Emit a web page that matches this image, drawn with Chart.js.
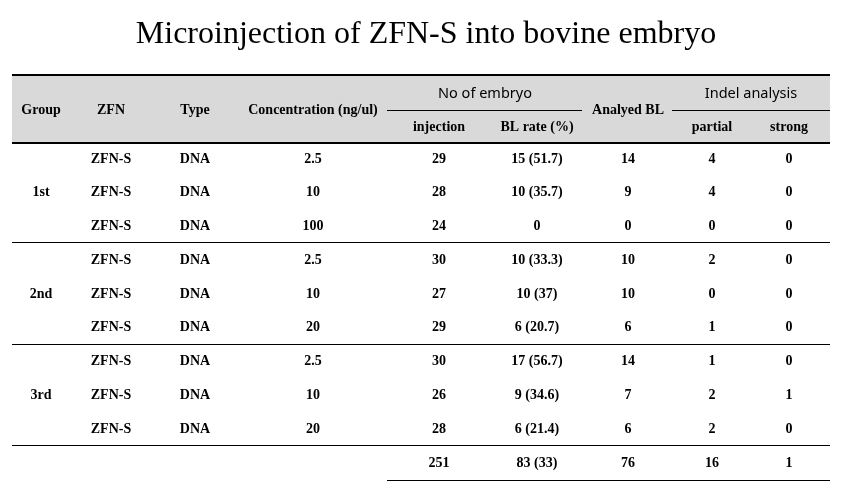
<!DOCTYPE html>
<html>
<head>
<meta charset="utf-8">
<script src="https://cdn.jsdelivr.net/npm/chart.js@4"></script>
<style>
html,body{margin:0;padding:0;background:#fff;}
#wrap{width:842px;height:492px;position:relative;}
</style>
</head>
<body>
<div id="wrap"><canvas id="c"></canvas></div>
<script>
// ---- data ----
const titleText = 'Microinjection of ZFN-S into bovine embryo';
const groups = ['1st', '2nd', '3rd'];
const zfnNames = ['ZFN-S','ZFN-S','ZFN-S','ZFN-S','ZFN-S','ZFN-S','ZFN-S','ZFN-S','ZFN-S'];
const types = ['DNA','DNA','DNA','DNA','DNA','DNA','DNA','DNA','DNA'];
const concentration = [2.5, 10, 100, 2.5, 10, 20, 2.5, 10, 20];
const injection = [29, 28, 24, 30, 27, 29, 30, 26, 28];
const blCount = [15, 10, 0, 10, 10, 6, 17, 9, 6];
const blRate = [51.7, 35.7, null, 33.3, 37, 20.7, 56.7, 34.6, 21.4];
const analyzedBL = [14, 9, 0, 10, 10, 6, 14, 7, 6];
const partial = [4, 4, 0, 2, 0, 1, 1, 2, 2];
const strong = [0, 0, 0, 0, 0, 0, 0, 1, 0];
const totalInjection = 251;
const totalBL = 83;
const totalRate = 33;
const totalAnalyzed = 76;
const totalPartial = 16;
const totalStrong = 1;
const headerMain = ['Group', 'ZFN', 'Type', 'Concentration (ng/ul)', 'Analyed BL'];
const headerGroups = ['No of embryo', 'Indel analysis'];
const headerSub = ['injection', 'BL rate (%)', 'partial', 'strong'];

// ---- layout (positions in scale units, not data) ----
const colX = [41, 111, 195, 313, 439, 537, 628, 712, 789]; // x-scale units
const tableLeft = 12, tableRight = 830, subLeft = 387, subMidR = 582, subRight2L = 672;
const Y = { title: -3.66, top: -2.457, grp: -1.92, subLine: -1.42, head: -1.45, sub: -0.947, headBottom: -0.444,
            sep: [2.5, 5.5, 8.5], bottom: 9.53 };

// ---- build cell text table ----
function fmtBL(i){ return blRate[i] === null ? String(blCount[i]) : blCount[i] + ' (' + blRate[i] + ')'; }
const cells = [];
for (let r = 0; r < 9; r++) {
  const row = [zfnNames[r], types[r], String(concentration[r]), String(injection[r]), fmtBL(r),
               String(analyzedBL[r]), String(partial[r]), String(strong[r])];
  row.forEach((t, c) => cells.push({x: colX[c + 1], y: r, t}));
}
groups.forEach((g, i) => cells.push({x: colX[0], y: i * 3 + 1, t: g}));
[String(totalInjection), totalBL + ' (' + totalRate + ')', String(totalAnalyzed), String(totalPartial), String(totalStrong)]
  .forEach((t, i) => cells.push({x: colX[4 + i], y: 9, t}));

const serifB = 'bold 14px "Liberation Serif", "Times New Roman", serif';
const sans = '14.5px "Noto Sans", "Liberation Sans", sans-serif';

const headerCells = [
  {x: colX[0], y: Y.head, t: headerMain[0], f: serifB},
  {x: colX[1], y: Y.head, t: headerMain[1], f: serifB},
  {x: colX[2], y: Y.head, t: headerMain[2], f: serifB},
  {x: colX[3], y: Y.head, t: headerMain[3], f: serifB},
  {x: colX[6], y: Y.head, t: headerMain[4], f: serifB},
  {x: 485, y: Y.grp, t: headerGroups[0], f: sans},
  {x: 751, y: Y.grp, t: headerGroups[1], f: sans},
  {x: colX[4], y: Y.sub, t: headerSub[0], f: serifB},
  {x: colX[5], y: Y.sub, t: headerSub[1], f: serifB},
  {x: colX[7], y: Y.sub, t: headerSub[2], f: serifB},
  {x: colX[8], y: Y.sub, t: headerSub[3], f: serifB}
];

const tablePlugin = {
  id: 'tablePlugin',
  beforeDatasetsDraw(chart) {
    const {ctx, scales: {x, y}} = chart;
    ctx.save();
    ctx.fillStyle = '#d9d9d9';
    const y0 = y.getPixelForValue(Y.top), y1 = y.getPixelForValue(Y.headBottom);
    ctx.fillRect(x.getPixelForValue(tableLeft), y0, x.getPixelForValue(tableRight) - x.getPixelForValue(tableLeft), y1 - y0);
    ctx.strokeStyle = '#000';
    const hl = (xa, xb, yv, w) => {
      ctx.lineWidth = w;
      ctx.beginPath();
      const py = Math.round(y.getPixelForValue(yv)) + (w % 2 ? 0.5 : 0);
      ctx.moveTo(x.getPixelForValue(xa), py);
      ctx.lineTo(x.getPixelForValue(xb), py);
      ctx.stroke();
    };
    hl(tableLeft, tableRight, Y.top, 2);
    hl(tableLeft, tableRight, Y.headBottom, 2);
    hl(subLeft, subMidR, Y.subLine, 1);
    hl(subRight2L, tableRight, Y.subLine, 1);
    Y.sep.forEach(s => hl(tableLeft, tableRight, s, 1));
    hl(subLeft, tableRight, Y.bottom, 1);
    ctx.fillStyle = '#000';
    ctx.textAlign = 'center';
    ctx.textBaseline = 'middle';
    ctx.font = '32px "Liberation Serif", "Times New Roman", serif';
    ctx.fillText(titleText, x.getPixelForValue(426), y.getPixelForValue(Y.title));
    headerCells.forEach(h => {
      ctx.font = h.f;
      ctx.fillText(h.t, x.getPixelForValue(h.x), y.getPixelForValue(h.y) + 1);
    });
    ctx.restore();
  },
  afterDatasetsDraw(chart) {
    const {ctx} = chart;
    const meta = chart.getDatasetMeta(0);
    ctx.save();
    ctx.fillStyle = '#000';
    ctx.textAlign = 'center';
    ctx.textBaseline = 'middle';
    ctx.font = serifB;
    meta.data.forEach((pt, i) => {
      ctx.fillText(cells[i].t, pt.x, pt.y + 1);
    });
    ctx.restore();
  }
};

const pxPerRow = 304 / 9;
const yMin = -158 / pxPerRow;
const yMax = yMin + 492 / pxPerRow;

new Chart(document.getElementById('c'), {
  type: 'scatter',
  data: {
    datasets: [{
      data: cells.map(c => ({x: c.x, y: c.y})),
      pointRadius: 0,
      pointHoverRadius: 0
    }]
  },
  options: {
    responsive: true,
    maintainAspectRatio: false,
    animation: false,
    layout: {padding: 0},
    plugins: {legend: {display: false}, tooltip: {enabled: false}, title: {display: false}},
    scales: {
      x: {type: 'linear', display: false, min: 0, max: 842},
      y: {type: 'linear', display: false, reverse: true, min: yMin, max: yMax}
    }
  },
  plugins: [tablePlugin]
});
</script>
</body>
</html>
